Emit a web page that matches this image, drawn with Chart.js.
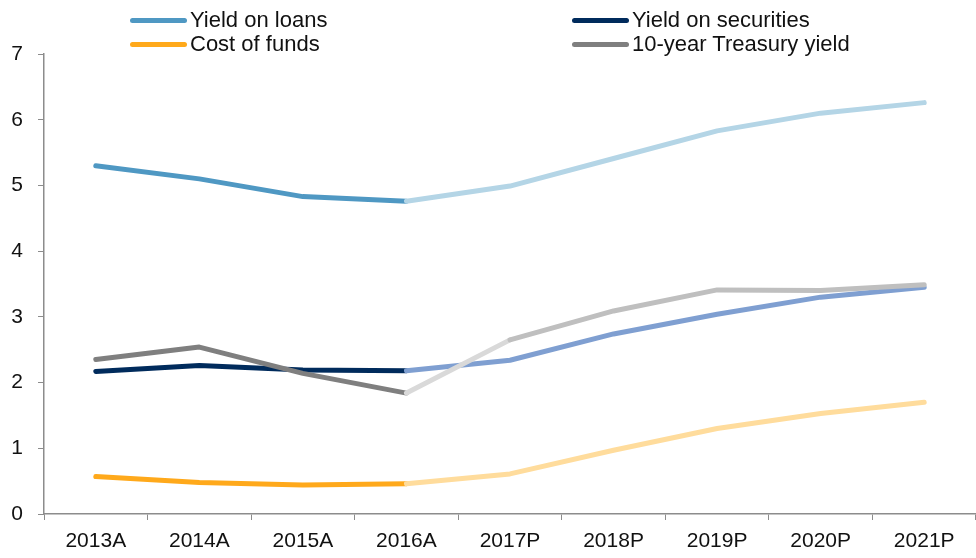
<!DOCTYPE html>
<html>
<head>
<meta charset="utf-8">
<script src="https://cdn.jsdelivr.net/npm/chart.js@4"></script>
<style>
  body { margin: 0; background: #fff; }
  .wrap { position: relative; width: 976px; height: 558px; }
  canvas { display: block; }
  .legend { position: absolute; left: 0; top: 0; font-family: "Liberation Sans", Arial, sans-serif; font-size: 22px; color: #111; }
  .legend .item { position: absolute; white-space: nowrap; display: flex; align-items: center; line-height: 24px; }
  .legend .swatch { display: inline-block; width: 57px; height: 5px; border-radius: 3px; margin-right: 3px; }
</style>
</head>
<body>
<div class="wrap">
  <canvas id="chart" width="976" height="558"></canvas>
  <div class="legend"></div>
</div>
<script>
// --- data ---
let years = ['2013A', '2014A', '2015A', '2016A', '2017P', '2018P', '2019P', '2020P', '2021P'];
let yieldOnLoans = [5.30, 5.10, 4.83, 4.76, 4.99, 5.41, 5.83, 6.10, 6.26];
let yieldOnSecurities = [2.17, 2.26, 2.19, 2.18, 2.34, 2.74, 3.04, 3.30, 3.45];
let costOfFunds = [0.57, 0.48, 0.44, 0.46, 0.61, 0.97, 1.30, 1.53, 1.70];
let treasuryYield = [2.35, 2.54, 2.14, 1.84, 2.65, 3.09, 3.41, 3.40, 3.49];
let yTicks = [0, 1, 2, 3, 4, 5, 6, 7];
let lastActual = 3; // index of 2016A

function series(label, data, dark, firstProj, proj) {
  return {
    label: label,
    data: data,
    borderColor: dark,
    borderWidth: 5,
    borderCapStyle: 'round',
    borderJoinStyle: 'round',
    pointRadius: 0,
    tension: 0,
    segment: {
      borderColor: ctx => {
        if (ctx.p0DataIndex < lastActual) return dark;
        if (ctx.p0DataIndex === lastActual) return firstProj;
        return proj;
      }
    }
  };
}

let datasets = [
  series('Yield on loans', yieldOnLoans, '#4f98c3', '#b4d5e6', '#b4d5e6'),
  series('Cost of funds', costOfFunds, '#ffa91b', '#ffdc9c', '#ffdc9c'),
  series('10-year Treasury yield', treasuryYield, '#7f7f7f', '#d9d9d9', '#bfbfbf'),
  series('Yield on securities', yieldOnSecurities, '#002b5c', '#7f9fd1', '#7f9fd1')
];

// --- legend (two columns) ---
let legendSpots = {
  'Yield on loans': [130, 8],
  'Yield on securities': [572, 8],
  'Cost of funds': [130, 32],
  '10-year Treasury yield': [572, 32]
};
let legendBox = document.querySelector('.legend');
datasets.forEach(ds => {
  let item = document.createElement('div');
  item.className = 'item';
  item.style.left = legendSpots[ds.label][0] + 'px';
  item.style.top = legendSpots[ds.label][1] + 'px';
  let sw = document.createElement('span');
  sw.className = 'swatch';
  sw.style.background = ds.borderColor;
  item.appendChild(sw);
  item.appendChild(document.createTextNode(ds.label));
  legendBox.appendChild(item);
});

// --- chart ---
let ctx = document.getElementById('chart').getContext('2d');
new Chart(ctx, {
  type: 'line',
  data: { labels: years, datasets: datasets },
  options: {
    responsive: false,
    animation: false,
    layout: { padding: { top: 54, right: 0, left: 0, bottom: 0 } },
    plugins: { legend: { display: false }, tooltip: { enabled: false } },
    scales: {
      x: {
        offset: true,
        grid: { offset: true, drawOnChartArea: false, color: '#8c8c8c', tickLength: 6, lineWidth: 1 },
        border: { color: '#8c8c8c', width: 1.5 },
        ticks: { color: '#111', padding: 9, maxRotation: 0, font: { family: 'Liberation Sans', size: 21 } },
        afterFit: scale => { scale.height = 44; }
      },
      y: {
        min: 0,
        max: 7,
        afterBuildTicks: scale => { scale.ticks = yTicks.map(v => ({ value: v })); },
        grid: { drawOnChartArea: false, color: '#8c8c8c', tickLength: 6 },
        border: { color: '#8c8c8c', width: 1.5 },
        ticks: { color: '#111', padding: 15, font: { family: 'Liberation Sans', size: 21 } },
        afterFit: scale => { scale.width = 44; }
      }
    }
  }
});
</script>
</body>
</html>
